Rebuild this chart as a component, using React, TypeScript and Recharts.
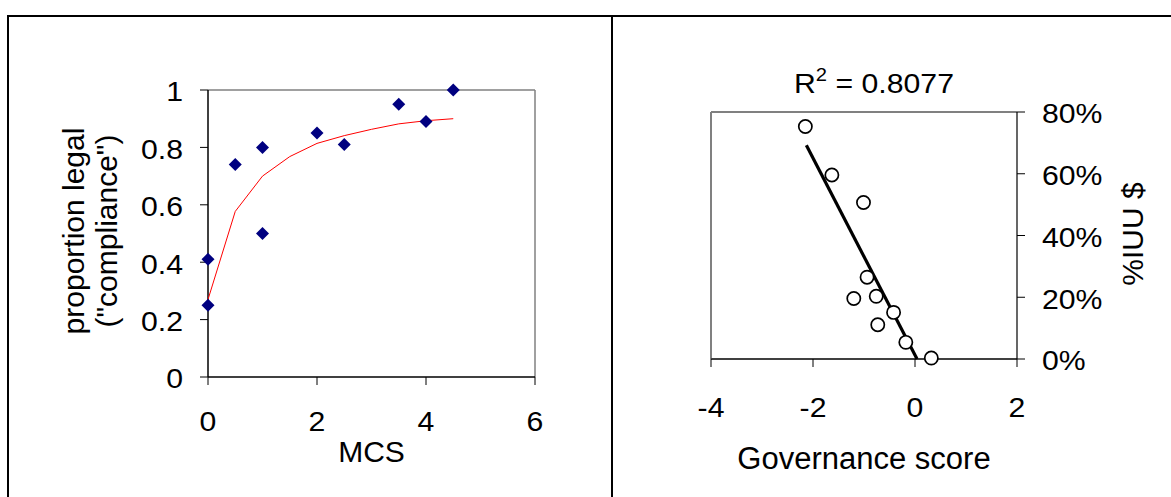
import React from "react";
import { ScatterChart, Scatter, XAxis, YAxis, ReferenceLine } from "recharts";

// left panel: compliance vs MCS
const mcsObserved = [
  { x: 0, y: 0.41 },
  { x: 0, y: 0.25 },
  { x: 0.5, y: 0.74 },
  { x: 1, y: 0.8 },
  { x: 1, y: 0.5 },
  { x: 2, y: 0.85 },
  { x: 2.5, y: 0.81 },
  { x: 3.5, y: 0.95 },
  { x: 4, y: 0.89 },
  { x: 4.5, y: 1.0 },
];
const mcsFitted = [
  { x: 0, y: 0.27 },
  { x: 0.5, y: 0.577 },
  { x: 1, y: 0.7 },
  { x: 1.5, y: 0.768 },
  { x: 2, y: 0.814 },
  { x: 2.5, y: 0.841 },
  { x: 3, y: 0.863 },
  { x: 3.5, y: 0.882 },
  { x: 4, y: 0.893 },
  { x: 4.5, y: 0.9 },
];
const mcsTicks = [0, 2, 4, 6];
const legalTicks = [0, 0.2, 0.4, 0.6, 0.8, 1];

// right panel: %IUU vs governance
const governance = [
  { x: -2.15, y: 0.753 },
  { x: -1.63, y: 0.596 },
  { x: -1.01, y: 0.507 },
  { x: -0.94, y: 0.265 },
  { x: -1.2, y: 0.196 },
  { x: -0.76, y: 0.203 },
  { x: -0.42, y: 0.151 },
  { x: -0.73, y: 0.111 },
  { x: -0.18, y: 0.054 },
  { x: 0.32, y: 0.003 },
];
const governanceTrend = [
  { x: -2.13, y: 0.692 },
  { x: 0.04, y: 0 },
];
const govTicks = [-4, -2, 0, 2];
const iuuTicks = [0, 0.2, 0.4, 0.6, 0.8];

const FONT = "'Liberation Sans', Arial, sans-serif";
const TICK_SIZE = 27;
const STRETCH = 1.12;

function WideTick(props: any) {
  const { x, y, payload, textAnchor, dy, fmt } = props;
  return (
    <g transform={`translate(${x},${y}) scale(${STRETCH},1)`}>
      <text x={0} y={0} dy={dy} textAnchor={textAnchor} fontSize={TICK_SIZE} fontFamily={FONT} fill="#000">
        {fmt(payload.value)}
      </text>
    </g>
  );
}

const plain = (v: number) => String(v);
const pct = (v: number) => `${Math.round(v * 100)}%`;

const Diamond = (p: any) => (
  <polygon
    points={`${p.cx},${p.cy - 6.5} ${p.cx + 6.5},${p.cy} ${p.cx},${p.cy + 6.5} ${p.cx - 6.5},${p.cy}`}
    fill="#000080"
  />
);
const Ring = (p: any) => <circle cx={p.cx} cy={p.cy} r={6.6} fill="#fff" stroke="#000" strokeWidth={1.7} />;
const NoDot = () => <g />;

export default function App() {
  return (
    <div style={{ position: "absolute", left: 0, top: 0, width: 1171, height: 497, background: "#fff", overflow: "hidden" }}>
      {/* table borders */}
      <div style={{ position: "absolute", left: 7, top: 15, width: 1164, height: 2, background: "#000" }} />
      <div style={{ position: "absolute", left: 7, top: 15, width: 2, height: 482, background: "#000" }} />
      <div style={{ position: "absolute", left: 611, top: 15, width: 2, height: 482, background: "#000" }} />

      <div style={{ position: "absolute", left: 0, top: 0 }}>
        <ScatterChart width={612} height={497} margin={{ top: 90, right: 77, bottom: 60, left: 0 }}>
          <XAxis
            type="number"
            dataKey="x"
            domain={[0, 6]}
            ticks={mcsTicks}
            height={60}
            tickSize={8}
            tickMargin={27}
            axisLine={{ stroke: "#000", strokeWidth: 1.5 }}
            tickLine={{ stroke: "#000" }}
            tick={(p: any) => <WideTick {...p} dy="0.71em" fmt={plain} />}
            label={() => (
              <text x={371.5} y={462} textAnchor="middle" fontSize={30} fontFamily={FONT} fill="#000">
                MCS
              </text>
            )}
          />
          <YAxis
            type="number"
            dataKey="y"
            domain={[0, 1]}
            ticks={legalTicks}
            width={208}
            tickSize={8}
            tickMargin={17}
            axisLine={{ stroke: "#000", strokeWidth: 1.5 }}
            tickLine={{ stroke: "#000" }}
            tick={(p: any) => <WideTick {...p} dy="0.42em" fmt={plain} />}
            label={() => (
              <text transform="translate(84,231) rotate(-90)" textAnchor="middle" fontSize={30} fontFamily={FONT} fill="#000">
                <tspan x={0} dy={0}>proportion legal</tspan>
                <tspan x={0} dy={33}>("compliance")</tspan>
              </text>
            )}
          />
          <ReferenceLine y={1} stroke="#808080" strokeWidth={1.5} />
          <ReferenceLine x={6} stroke="#808080" strokeWidth={1.5} />
          <Scatter data={mcsFitted} line={{ stroke: "#ff0000", strokeWidth: 1 }} shape={NoDot} isAnimationActive={false} />
          <Scatter data={mcsObserved} shape={Diamond} isAnimationActive={false} />
        </ScatterChart>
      </div>

      <div style={{ position: "absolute", left: 612, top: 0 }}>
        <ScatterChart width={559} height={497} margin={{ top: 112, right: 0, bottom: 78, left: 99 }}>
          <XAxis
            type="number"
            dataKey="x"
            domain={[-4, 2]}
            ticks={govTicks}
            height={60}
            tickSize={8}
            tickMargin={31}
            axisLine={{ stroke: "#404040", strokeWidth: 2 }}
            tickLine={{ stroke: "#000" }}
            tick={(p: any) => <WideTick {...p} dy="0.71em" fmt={plain} />}
            label={() => (
              <text x={252} y={469} textAnchor="middle" fontSize={31} fontFamily={FONT} fill="#000">
                Governance score
              </text>
            )}
          />
          <YAxis
            type="number"
            dataKey="y"
            orientation="right"
            domain={[0, 0.8]}
            ticks={iuuTicks}
            width={154}
            tickSize={8}
            tickMargin={17}
            axisLine={{ stroke: "#000", strokeWidth: 1.2 }}
            tickLine={{ stroke: "#000" }}
            tick={(p: any) => <WideTick {...p} dy="0.42em" fmt={pct} />}
            label={() => (
              <text transform="translate(531,234) rotate(-90)" textAnchor="middle" fontSize={30} fontFamily={FONT} fill="#000">
                %IUU $
              </text>
            )}
          />
          <ReferenceLine y={0.8} stroke="#808080" strokeWidth={2} />
          <ReferenceLine x={-4} stroke="#808080" strokeWidth={2} />
          <Scatter data={governanceTrend} line={{ stroke: "#000", strokeWidth: 3.2 }} shape={NoDot} isAnimationActive={false} />
          <Scatter data={governance} shape={Ring} isAnimationActive={false} />
        </ScatterChart>
        <svg style={{ position: "absolute", left: 0, top: 0 }} width={559} height={110}>
          <g transform={`translate(262,93) scale(${STRETCH},1)`}>
            <text x={0} y={0} textAnchor="middle" fontSize={TICK_SIZE} fontFamily={FONT} fill="#000">
              R<tspan dy={-12} fontSize={18}>2</tspan>
              <tspan dy={12}> = 0.8077</tspan>
            </text>
          </g>
        </svg>
      </div>
    </div>
  );
}
